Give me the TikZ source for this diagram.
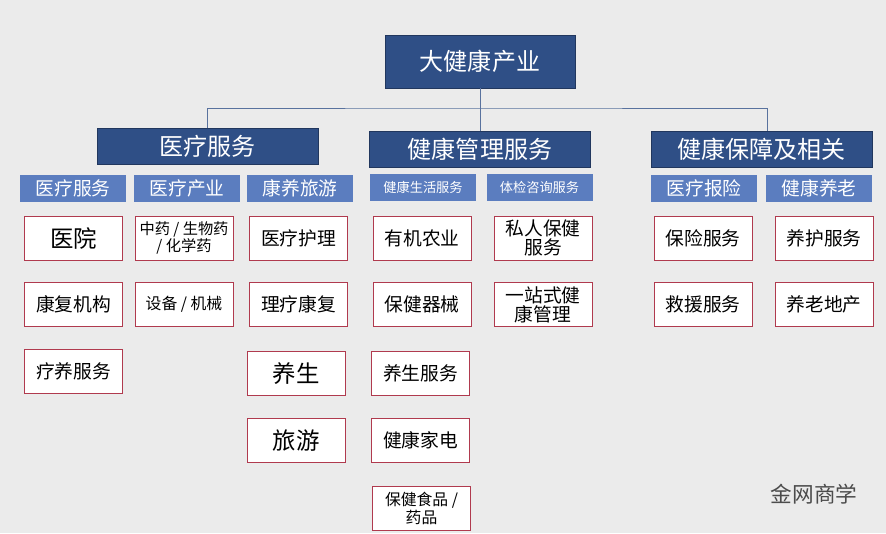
\documentclass[tikz,border=0pt]{standalone}
\usepackage{fontspec}
\setmainfont{Noto Sans CJK SC}
\usetikzlibrary{positioning}
\definecolor{bg}{HTML}{EBEBEB}
\definecolor{darkblue}{HTML}{2F4F86}
\definecolor{midblue}{HTML}{5B7DBF}
\definecolor{leafred}{HTML}{B03A4E}

\begin{document}
\begin{tikzpicture}[
    x=0.3mm,y=-0.3mm,
    top/.style={rectangle,draw=darkblue!70!black,fill=darkblue,text=white,minimum width=57mm,minimum height=15.9mm,font=\fontsize{20.5}{22}\selectfont},
    branch/.style={rectangle,draw=darkblue!70!black,fill=darkblue,text=white,minimum width=66.3mm,minimum height=10.8mm,inner sep=0pt,font=\fontsize{20.5}{22}\selectfont},
    sub/.style={rectangle,fill=midblue,text=white,minimum width=31.8mm,minimum height=8.1mm,inner sep=0pt,font=\fontsize{16}{18}\selectfont},
    leaf/.style={rectangle,draw=leafred,fill=white,minimum width=29.4mm,minimum height=13.2mm,inner sep=0pt,align=center,font=\fontsize{16}{17}\selectfont},
    link/.style={draw=darkblue!80,thin}
]
    \fill[bg] (0,0) rectangle (886,533);

    % Top
    \node[top] (root) at (480,61.5) {大健康产业};

    % Branches
    \node[branch] (med) at (207.5,146.5) {医疗服务};
    \node[branch] (mgmt) at (480,149) {健康管理服务};
    \node[branch] (ins) at (761.5,149) {健康保障及相关};

    \coordinate (hub) at (480,108);
    \coordinate (insTop) at (767,131);
    \draw[link] (root) -- (hub);
    \draw[link] (med.north) |- (hub) -| (insTop);
    \draw[link] (hub) -- (mgmt.north);

    % Sub categories
    \node[sub] (s1) at (73,188.5) {医疗服务};
    \node[sub] (s2) at (187,188.5) {医疗产业};
    \node[sub] (s3) at (300,188.5) {康养旅游};
    \node[sub,font=\fontsize{11.3}{13}\selectfont] (s4) at (423,187.5) {健康生活服务};
    \node[sub,font=\fontsize{11.3}{13}\selectfont] (s5) at (539.5,187.5) {体检咨询服务};
    \node[sub] (s6) at (704,188.5) {医疗报险};
    \node[sub] (s7) at (819,188.5) {健康养老};

    % Leaves
    \node[leaf,font=\fontsize{20}{22}\selectfont] (l1) at (73.5,238) {医院};
    \node[leaf] (l2) at (73.5,304.5) {康复机构};
    \node[leaf] (l3) at (73.5,371.5) {疗养服务};
    \node[leaf,font=\fontsize{13}{14}\selectfont] (l4) at (184,238) {中药 / 生物药\\/ 化学药};
    \node[leaf,font=\fontsize{13.5}{15}\selectfont] (l5) at (184,304.5) {设备 / 机械};
    \node[leaf] (l6) at (298.5,238) {医疗护理};
    \node[leaf] (l7) at (298.5,304.5) {理疗康复};
    \node[leaf,font=\fontsize{20}{22}\selectfont] (l8) at (296,373.5) {养生};
    \node[leaf,font=\fontsize{20}{22}\selectfont] (l9) at (296,440.5) {旅游};
    \node[leaf] (l10) at (422,238) {有机农业};
    \node[leaf] (l11) at (422,304.5) {保健器械};
    \node[leaf] (l12) at (420.5,373) {养生服务};
    \node[leaf] (l13) at (420.5,440) {健康家电};
    \node[leaf,font=\fontsize{13.5}{15}\selectfont] (l14) at (421.5,508.5) {保健食品 /\\药品};
    \node[leaf,font=\fontsize{16}{16}\selectfont] (l15) at (543,238) {私人保健\\服务};
    \node[leaf,font=\fontsize{16}{16}\selectfont] (l16) at (543,304.5) {一站式健\\康管理};
    \node[leaf] (l17) at (703,238) {保险服务};
    \node[leaf] (l18) at (824,238) {养护服务};
    \node[leaf] (l19) at (703,304.5) {救援服务};
    \node[leaf] (l20) at (824,304.5) {养老地产};

    % Watermark
    \node[text=gray!60!black,font=\fontsize{18.5}{20}\selectfont] (mark) at (814,494) {金网商学};
\end{tikzpicture}
\end{document}
